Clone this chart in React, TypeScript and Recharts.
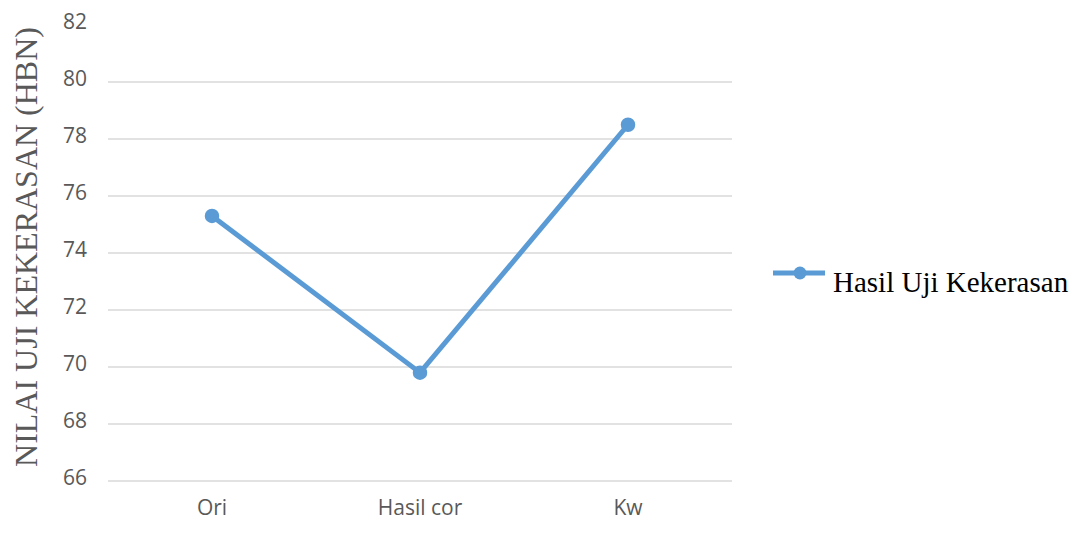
import { LineChart, Line, XAxis, YAxis, ReferenceLine, Legend } from "recharts";

const categories = ["Ori", "Hasil cor", "Kw"];
const hardness = [75.3, 69.8, 78.5];
const yTicks = [66, 68, 70, 72, 74, 76, 78, 80, 82];
const gridValues = [68, 70, 72, 74, 76, 78, 80];
const seriesName = "Hasil Uji Kekerasan";
const yTitle = "NILAI UJI KEKERASAN (HBN)";

const data = categories.map((name, i) => ({ name, value: hardness[i] }));

const BLUE = "#5B9BD5";
const tickFont = { fill: "#595959", fontSize: 21, fontFamily: "'Open Sans', sans-serif" };

const YTitle = (props: any) => {
  const vb = props.viewBox;
  const x = vb ? vb.x + 37 : 37;
  const cy = vb ? vb.y + vb.height / 2 - 6 : 247;
  return (
    <text
      x={x}
      y={cy}
      transform={`rotate(-90, ${x}, ${cy})`}
      textAnchor="middle"
      fill="#595959"
      fontSize={32}
      fontFamily="'Liberation Serif', 'Times New Roman', serif"
    >
      {yTitle}
    </text>
  );
};

const LegendBox = () => (
  <svg width={310} height={50}>
    <line x1={0} y1={15} x2={52} y2={15} stroke={BLUE} strokeWidth={5} />
    <circle cx={27} cy={15} r={6.5} fill={BLUE} />
    <text x={60} y={34} fontSize={29} fill="#000" fontFamily="'Liberation Serif', 'Times New Roman', serif">
      {seriesName}
    </text>
  </svg>
);

export default function App() {
  return (
    <div style={{ position: "absolute", left: 0, top: 0, background: "#fff" }}>
      <LineChart width={1083} height={536} data={data} margin={{ top: 25, right: 351, bottom: 0, left: 0 }}>
        {gridValues.map((v) => (
          <ReferenceLine key={v} y={v} stroke="#D9D9D9" strokeWidth={1.5} />
        ))}
        <XAxis
          dataKey="name"
          height={55}
          interval={0}
          padding={{ left: 104, right: 104 }}
          axisLine={{ stroke: "#D9D9D9", strokeWidth: 1.5 }}
          tickLine={false}
          tickSize={0}
          tickMargin={19}
          tick={tickFont}
        />
        <YAxis
          width={108}
          domain={[66, 82]}
          ticks={yTicks}
          interval={0}
          axisLine={false}
          tickLine={false}
          tickSize={0}
          tickMargin={21}
          tick={{ ...tickFont, dy: -3.5 }}
          label={{ content: YTitle }}
        />
        <Legend
          layout="horizontal"
          verticalAlign="middle"
          align="center"
          wrapperStyle={{ position: "absolute", left: 773, top: 258, width: 310, height: 50 }}
          content={LegendBox}
        />
        <Line
          type="linear"
          dataKey="value"
          name={seriesName}
          stroke={BLUE}
          strokeWidth={5}
          dot={{ r: 6.5, fill: BLUE, stroke: BLUE, strokeWidth: 1.5 }}
          activeDot={false}
          isAnimationActive={false}
        />
      </LineChart>
    </div>
  );
}
